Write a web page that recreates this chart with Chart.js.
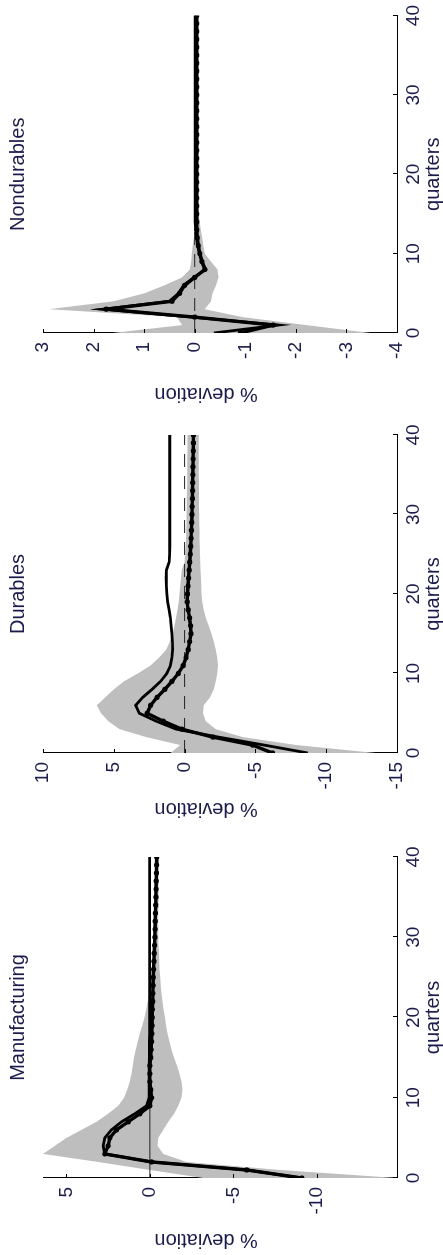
<!DOCTYPE html>
<html>
<head>
<meta charset="utf-8">
<title>Impulse responses</title>
<script src="https://cdn.jsdelivr.net/npm/chart.js@4.4.1/dist/chart.umd.min.js"></script>
<style>
    html, body { margin: 0; padding: 0; background: #fff; overflow: hidden; }
    body { width: 443px; height: 1255px; position: relative; }
    /* the three panels are laid out side by side, then the sheet is turned on its side */
    #sheet {
        position: absolute; left: 0; top: 0;
        width: 1255px; height: 443px;
        transform-origin: 0 0;
        transform: translateY(1255px) rotate(-90deg);
        background: #fff;
    }
    .panel { position: absolute; top: 0; height: 443px; }
    .panel canvas { display: block; }
</style>
</head>
<body>
<div id="sheet">
    <div class="panel" style="left:0px;width:420px"><canvas id="mfgChart" width="420" height="443"></canvas></div>
    <div class="panel" style="left:425px;width:420px"><canvas id="durChart" width="420" height="443"></canvas></div>
    <div class="panel" style="left:845px;width:410px"><canvas id="nonChart" width="410" height="443"></canvas></div>
</div>
<script>
// Horizon in quarters
const quarters = [0, 1, 2, 3, 4, 5, 6, 7, 8, 9, 10, 11, 12, 13, 14, 15, 16, 17, 18, 19, 20,
    21, 22, 23, 24, 25, 26, 27, 28, 29, 30, 31, 32, 33, 34, 35, 36, 37, 38, 39, 40];
const xTicks = [0, 10, 20, 30, 40];

// Manufacturing
const mfgIrf = [-9.1, -5.8, -0.1, 2.7, 2.5, 2.4, 2.0, 1.3, 0.6, 0.0,
    -0.1, -0.05, 0.0, 0.0, 0.0, -0.05, -0.07, -0.1, -0.12, -0.13,
    -0.14, -0.15, -0.17, -0.18, -0.19, -0.2, -0.22, -0.24, -0.26, -0.28,
    -0.3, -0.31, -0.32, -0.33, -0.35, -0.36, -0.37, -0.38, -0.39, -0.4,
    -0.41];
const mfgAlt = [-9.1, -5.8, -0.1, 2.7, 2.8, 2.7, 2.3, 1.7, 0.9, 0.2,
    0.05, 0.05, 0.05, 0.04, 0.04, 0.03, 0.03, 0.03, 0.02, 0.02,
    0.02, 0.02, 0.02, 0.02, 0.02, 0.02, 0.02, 0.02, 0.02, 0.02,
    0.02, 0.02, 0.02, 0.02, 0.02, 0.02, 0.02, 0.02, 0.02, 0.02,
    0.02];
const mfgHi = [-3.2, 0.0, 3.1, 6.4, 5.7, 5.0, 4.1, 3.2, 2.5, 1.9,
    1.55, 1.35, 1.2, 1.1, 1.02, 0.95, 0.85, 0.72, 0.6, 0.45,
    0.32, 0.22, 0.12, 0.03, -0.05, -0.1, -0.13, -0.16, -0.18, -0.2,
    -0.22, -0.23, -0.24, -0.25, -0.26, -0.27, -0.28, -0.29, -0.3, -0.3,
    -0.3];
const mfgLo = [-14.8, -7.8, -2.2, -0.8, -0.45, -0.5, -0.8, -1.1, -1.45, -1.7,
    -1.9, -1.95, -1.9, -1.78, -1.62, -1.45, -1.3, -1.17, -1.05, -0.96,
    -0.9, -0.82, -0.75, -0.7, -0.65, -0.62, -0.58, -0.56, -0.54, -0.52,
    -0.5, -0.5, -0.5, -0.5, -0.51, -0.51, -0.52, -0.52, -0.53, -0.53,
    -0.54];
const mfgTicks = [5, 0, -5, -10];

// Durables
const durIrf = [-6.2, -4.8, -2.0, 0.2, 1.5, 2.65, 2.4, 1.95, 1.4, 0.9,
    0.45, 0.1, -0.1, -0.25, -0.35, -0.45, -0.42, -0.35, -0.25, -0.18,
    -0.2, -0.24, -0.28, -0.32, -0.36, -0.4, -0.43, -0.46, -0.48, -0.5,
    -0.52, -0.53, -0.55, -0.56, -0.57, -0.58, -0.59, -0.6, -0.61, -0.62,
    -0.62];
const durAlt = [-8.7, -5.6, -2.4, 0.6, 2.0, 3.2, 3.45, 2.95, 2.3, 1.7,
    1.25, 1.0, 0.9, 0.84, 0.86, 0.9, 0.95, 1.0, 1.1, 1.2,
    1.25, 1.28, 1.3, 1.28, 1.1, 1.06, 1.05, 1.05, 1.05, 1.05,
    1.05, 1.05, 1.05, 1.05, 1.05, 1.05, 1.05, 1.05, 1.05, 1.05,
    1.05];
const durHi = [1.0, 0.3, 2.7, 4.6, 5.4, 5.9, 6.2, 5.6, 5.0, 4.3,
    3.3, 2.4, 1.8, 1.3, 1.05, 0.85, 0.72, 0.6, 0.5, 0.42,
    0.36, 0.3, 0.25, 0.2, 0.0, -0.05, -0.08, -0.1, -0.12, -0.13,
    -0.14, -0.15, -0.16, -0.17, -0.18, -0.18, -0.19, -0.19, -0.2, -0.2,
    -0.2];
const durLo = [-13.5, -7.9, -4.1, -2.2, -1.5, -1.3, -1.35, -1.8, -2.05, -2.2,
    -2.3, -2.35, -2.3, -2.2, -2.05, -1.9, -1.7, -1.5, -1.35, -1.25,
    -1.2, -1.18, -1.15, -1.13, -1.1, -1.08, -1.07, -1.06, -1.05, -1.04,
    -1.03, -1.02, -1.02, -1.01, -1.01, -1.0, -1.0, -1.0, -1.0, -1.0,
    -1.0];
const durTicks = [10, 5, 0, -5, -10, -15];

// Nondurables
const nonIrf = [-0.9, -1.55, 0.0, 1.75, 0.45, 0.3, 0.2, 0.0, -0.2, -0.14,
    -0.1, -0.07, -0.05, -0.04, -0.04, -0.04, -0.04, -0.04, -0.04, -0.04,
    -0.04, -0.04, -0.04, -0.04, -0.04, -0.04, -0.04, -0.04, -0.04, -0.04,
    -0.04, -0.04, -0.04, -0.04, -0.04, -0.04, -0.04, -0.04, -0.04, -0.04,
    -0.04];
const nonAlt = [-0.38, -1.65, 0.05, 1.8, 0.5, 0.32, 0.22, 0.02, -0.22, -0.15,
    -0.1, -0.06, -0.04, -0.02, -0.01, -0.01, -0.01, -0.01, -0.01, -0.01,
    -0.01, -0.01, -0.01, -0.01, -0.01, -0.01, -0.01, -0.01, -0.01, -0.01,
    -0.01, -0.01, -0.01, -0.01, -0.01, -0.01, -0.01, -0.01, -0.01, -0.01,
    -0.01];
const nonHi = [1.63, 0.25, 0.35, 2.88, 1.6, 1.0, 0.6, 0.25, 0.1, 0.07,
    0.06, 0.04, 0.02, 0.0, 0.0, 0.0, 0.0, 0.0, 0.0, 0.0,
    0.0, 0.0, 0.0, 0.0, 0.0, 0.0, 0.0, 0.0, 0.0, 0.0,
    0.0, 0.0, 0.0, 0.0, 0.0, 0.0, 0.0, 0.0, 0.0, 0.0,
    0.0];
const nonLo = [-3.48, -2.2, -0.95, -0.2, -0.32, -0.35, -0.42, -0.47, -0.45, -0.32,
    -0.2, -0.17, -0.15, -0.12, -0.1, -0.08, -0.07, -0.07, -0.07, -0.07,
    -0.07, -0.07, -0.07, -0.07, -0.07, -0.07, -0.07, -0.07, -0.07, -0.07,
    -0.07, -0.07, -0.07, -0.07, -0.07, -0.07, -0.07, -0.07, -0.07, -0.07,
    -0.07];
const nonTicks = [3, 2, 1, 0, -1, -2, -3, -4];

// zero reference, from the first to the last quarter
const zeroRef = [0, 0];

const FONT = '"Liberation Sans", Arial, sans-serif';
const TEXT = '#1c1c4c';
const BAND = '#bebebe';

function pts(values) {
    return values.map((v, i) => ({ x: quarters[i], y: v }));
}

// Matlab style tick marks pointing into the plot
const inwardTicks = {
    id: 'inwardTicks',
    afterDatasetsDraw(chart) {
        const { ctx, chartArea, scales } = chart;
        ctx.save();
        ctx.strokeStyle = '#000';
        ctx.lineWidth = 1;
        ctx.beginPath();
        scales.x.ticks.forEach(t => {
            const px = Math.round(scales.x.getPixelForValue(t.value)) + 0.5;
            ctx.moveTo(px, chartArea.bottom);
            ctx.lineTo(px, chartArea.bottom - 4);
        });
        scales.y.ticks.forEach(t => {
            const py = Math.round(scales.y.getPixelForValue(t.value)) + 0.5;
            ctx.moveTo(chartArea.left, py);
            ctx.lineTo(chartArea.left + 4, py);
        });
        ctx.stroke();
        ctx.restore();
    }
};

function drawPanel(id, title, s) {
    return new Chart(document.getElementById(id), {
        type: 'line',
        data: {
            datasets: [
                {   // point estimate with markers
                    data: pts(s.irf),
                    borderColor: '#000',
                    borderWidth: 3.4,
                    pointRadius: 2.6,
                    pointBackgroundColor: '#000',
                    pointBorderWidth: 0
                },
                {   // alternative estimate
                    data: pts(s.alt),
                    borderColor: '#000',
                    borderWidth: 2.8,
                    pointRadius: 0
                },
                {
                    data: [{ x: quarters[0], y: zeroRef[0] }, { x: quarters[quarters.length - 1], y: zeroRef[1] }],
                    borderColor: '#222',
                    borderWidth: 1,
                    borderDash: s.dash,
                    pointRadius: 0
                },
                {   // confidence band
                    data: pts(s.hi),
                    borderColor: 'rgba(0,0,0,0)',
                    borderWidth: 0,
                    backgroundColor: BAND,
                    fill: '+1',
                    pointRadius: 0
                },
                {
                    data: pts(s.lo),
                    borderColor: 'rgba(0,0,0,0)',
                    borderWidth: 0,
                    fill: false,
                    pointRadius: 0
                }
            ]
        },
        options: {
            responsive: false,
            animation: false,
            layout: { padding: { left: 0, right: s.padRight, top: 0, bottom: 0 } },
            elements: { line: { tension: 0 } },
            plugins: {
                legend: { display: false },
                tooltip: { enabled: false },
                title: {
                    display: true,
                    text: title,
                    color: TEXT,
                    fullSize: false,
                    font: { family: FONT, size: 20, weight: 'normal', lineHeight: 1 },
                    padding: { top: 8, bottom: 15 }
                }
            },
            scales: {
                x: {
                    type: 'linear',
                    min: 0,
                    max: 40,
                    afterFit: scale => { scale.height = 46; },
                    afterBuildTicks: scale => { scale.ticks = xTicks.map(v => ({ value: v })); },
                    grid: { display: false, drawTicks: false },
                    border: { display: true, color: '#000', width: 1 },
                    ticks: { color: TEXT, padding: 5, maxRotation: 0, font: { family: FONT, size: 19 } },
                    title: {
                        display: true, text: 'quarters', color: TEXT, padding: 0,
                        font: { family: FONT, size: 20, lineHeight: 1 }
                    }
                },
                y: {
                    type: 'linear',
                    min: s.yMin,
                    max: s.yMax,
                    afterFit: scale => { scale.width = 77; },
                    afterBuildTicks: scale => { scale.ticks = s.ticks.map(v => ({ value: v })); },
                    grid: { display: false, drawTicks: false },
                    border: { display: true, color: '#000', width: 1 },
                    ticks: { color: TEXT, padding: 9, font: { family: FONT, size: 19 } },
                    title: {
                        display: true, text: '     % deviation', color: TEXT,
                        padding: { top: s.titlePad, bottom: 0 },
                        font: { family: FONT, size: 20, lineHeight: 1 }
                    }
                }
            }
        },
        plugins: [inwardTicks]
    });
}

drawPanel('mfgChart', 'Manufacturing', {
    irf: mfgIrf, alt: mfgAlt, hi: mfgHi, lo: mfgLo, ticks: mfgTicks,
    yMin: -14.8, yMax: 6.4, dash: [], padRight: 22, titlePad: 5
});
drawPanel('durChart', 'Durables', {
    irf: durIrf, alt: durAlt, hi: durHi, lo: durLo, ticks: durTicks,
    yMin: -15, yMax: 10, dash: [13, 9], padRight: 25, titlePad: 11
});
drawPanel('nonChart', 'Nondurables', {
    irf: nonIrf, alt: nonAlt, hi: nonHi, lo: nonLo, ticks: nonTicks,
    yMin: -4, yMax: 3, dash: [13, 9], padRight: 13, titlePad: 6
});
</script>
</body>
</html>
